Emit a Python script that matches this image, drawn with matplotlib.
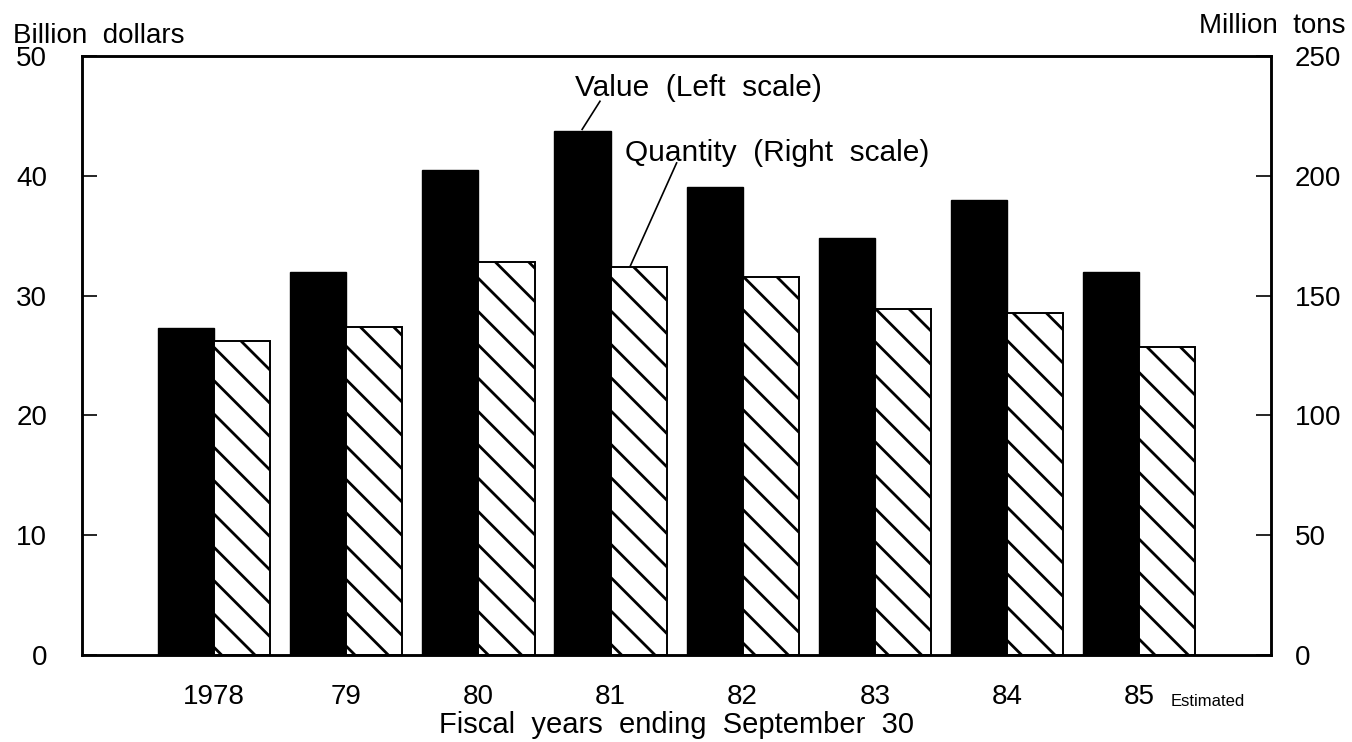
import numpy as np
import matplotlib
matplotlib.use("Agg")
import matplotlib.pyplot as plt

years = ["1978", "79", "80", "81", "82", "83", "84", "85"]
value_bn = [27.3, 32.0, 40.5, 43.8, 39.1, 34.8, 38.0, 32.0]   # billion dollars
quantity_mt = [131, 137, 164, 162, 158, 144.5, 143, 128.5]    # million tons

plt.rcParams['font.family'] = ['Liberation Sans', 'DejaVu Sans']
plt.rcParams['hatch.linewidth'] = 2.0

fig = plt.figure(figsize=(13.52, 7.42), dpi=100)
ax = fig.add_axes([0.0607, 0.1175, 0.8795, 0.8065])
ax2 = ax.twinx()

x = np.arange(len(years))
w = 0.425
ax.bar(x - w / 2, value_bn, width=w, color='black', edgecolor='black', zorder=2)
ax2.bar(x + w / 2, quantity_mt, width=w, color='white', edgecolor='black',
        hatch='\\', linewidth=1.4, zorder=2)

ax.set_xlim(-1.0, 8.0)
ax.set_ylim(0, 50)
ax2.set_ylim(0, 250)
ax.set_yticks([0, 10, 20, 30, 40, 50])
ax2.set_yticks([0, 50, 100, 150, 200, 250])

ax.set_xticks(x)
ax.set_xticklabels(years, fontsize=20)
ax.tick_params(axis='x', length=0, pad=21)
ax.tick_params(axis='y', direction='in', length=11, width=1.2, labelsize=20, pad=25)
ax2.tick_params(axis='y', direction='in', length=11, width=1.2, labelsize=20, pad=17)

for a in (ax, ax2):
    for s in a.spines.values():
        s.set_linewidth(1.8)

ax.set_xlabel("Fiscal  years  ending  September  30", fontsize=21, labelpad=1)

# "Estimated" note next to the 85 label
ax.annotate("Estimated", xy=(7, 0), xycoords=('data', 'axes fraction'),
            xytext=(23, -37), textcoords='offset points',
            fontsize=12, ha='left', va='baseline')

fig.text(0.0096, 0.942, "Billion  dollars", fontsize=20, va='baseline', ha='left')
fig.text(0.995, 0.9555, "Million  tons", fontsize=20, va='baseline', ha='right')

# series labels with leader lines
ax.text(2.73, 47.4, "Value  (Left  scale)", fontsize=21.5, ha='left', va='center')
ax.plot([2.92, 2.785], [46.25, 43.9], color='black', lw=1.2)
ax.text(3.11, 41.9, "Quantity  (Right  scale)", fontsize=21.5, ha='left', va='center')
ax.plot([3.50, 3.15], [41.1, 32.5], color='black', lw=1.2)

fig.savefig("out.png", dpi=100)
